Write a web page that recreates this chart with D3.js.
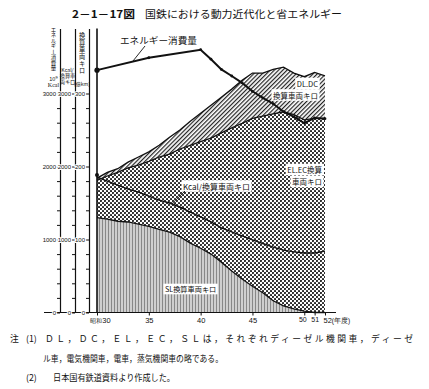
<!DOCTYPE html>
<html>
<head>
<meta charset="utf-8">
<script src="https://cdnjs.cloudflare.com/ajax/libs/d3/7.8.5/d3.min.js"></script>
<style>
  body { margin: 0; background: #fff; }
  svg { display: block; font-family: "Noto Sans CJK JP", "Noto Sans", sans-serif; }
</style>
</head>
<body>
<div id="chart"></div>
<script>
/**
 * DATA
 * */
const years = [30, 31, 32, 33, 34, 35, 36, 37, 38, 39, 40, 41, 42, 43, 44, 45, 46, 47, 48, 49, 50, 51, 52];
// 換算車両キロ (億km), stacked bottom to top
const slKm     = [130, 128, 125, 124, 121, 118, 114, 110, 104, 95, 88, 80, 69, 57, 46, 36, 27, 16, 9, 5, 2, 0, 0];
const elecKm   = [51, 59, 67, 74, 81, 89, 99, 107, 120, 134, 146, 159, 177, 196, 213, 230, 242, 256, 266, 266, 262, 266, 266];
const dieselKm = [3, 5, 5, 8, 11, 13, 16, 23, 26, 33, 39, 45, 49, 53, 59, 62, 59, 61, 61, 57, 59, 63, 58];
// Kcal/換算車両キロ
const kcalPerKm = [1855, 1800, 1745, 1690, 1650, 1595, 1540, 1500, 1445, 1375, 1310, 1240, 1160, 1105, 1050, 995, 945, 895, 855, 830, 815, 815, 840];
// エネルギー消費量 (10^9 Kcal)
const energyYears = [30, 35, 40, 41, 42, 43, 44, 45, 46, 47, 48, 49, 50, 51, 52];
const energyKcal  = [3320, 3490, 3600, 3470, 3330, 3240, 3145, 3030, 2940, 2860, 2750, 2680, 2595, 2665, 2655];

const xTickYears = [30, 35, 40, 45, 50, 51, 52];
const leftLabels = [0, 1000, 2000, 3000];

/**
 * CONSTANTS
 * */
const width = 429, height = 389;

const svg = d3.select("#chart").append("svg")
  .attr("width", width)
  .attr("height", height);

// all three left scales share the same pixel grid (3000 = 300億km)
const x = d3.scaleLinear().domain([30, 52]).range([97, 325]);
const y = d3.scaleLinear().domain([0, 3000]).range([312.5, 93.5]);
const yKm = d3.scaleLinear().domain([0, 300]).range([312.5, 93.5]);
const yTop = y.invert(28.5); // axis lines run up past 3000

/**
 * PATTERNS
 * */
const defs = svg.append("defs");

const pSL = defs.append("pattern").attr("id", "pSL")
  .attr("patternUnits", "userSpaceOnUse").attr("width", 3).attr("height", 3);
pSL.append("rect").attr("width", 3).attr("height", 3).attr("fill", "#cfcfcf");
pSL.append("rect").attr("x", 0).attr("width", 1).attr("height", 3).attr("fill", "#888");

const pEL = defs.append("pattern").attr("id", "pEL")
  .attr("patternUnits", "userSpaceOnUse").attr("width", 4).attr("height", 4);
pEL.append("rect").attr("width", 4).attr("height", 4).attr("fill", "#fff");
pEL.append("circle").attr("cx", 1).attr("cy", 1).attr("r", 1.05).attr("fill", "#1a1a1a");
pEL.append("circle").attr("cx", 3).attr("cy", 3).attr("r", 1.05).attr("fill", "#1a1a1a");

const pDL = defs.append("pattern").attr("id", "pDL")
  .attr("patternUnits", "userSpaceOnUse").attr("width", 3).attr("height", 3)
  .attr("patternTransform", "rotate(45)");
pDL.append("rect").attr("width", 3).attr("height", 3).attr("fill", "#fff");
pDL.append("rect").attr("width", 1.2).attr("height", 3).attr("fill", "#222");

/**
 * STACKED AREAS
 * */
const rows = years.map((yr, i) => ({ year: yr, sl: slKm[i], elec: elecKm[i], diesel: dieselKm[i] }));
const series = d3.stack().keys(["sl", "elec", "diesel"])(rows);
const fills = { sl: "url(#pSL)", elec: "url(#pEL)", diesel: "url(#pDL)" };

const area = d3.area()
  .x(d => x(d.data.year))
  .y0(d => yKm(d[0]))
  .y1(d => yKm(d[1]));

svg.append("g").selectAll("path")
  .data(series)
  .join("path")
  .attr("d", area)
  .attr("fill", d => fills[d.key]);

// boundary lines on top of each layer
const topLine = d3.line().x(d => x(d.data.year)).y(d => yKm(d[1]));
svg.append("g").selectAll("path")
  .data(series)
  .join("path")
  .attr("d", topLine)
  .attr("fill", "none")
  .attr("stroke", "#111")
  .attr("stroke-width", 1.3);

/**
 * LINES
 * */
const kcalLine = d3.line().x((d, i) => x(years[i])).y(d => y(d));
svg.append("path")
  .attr("d", kcalLine(kcalPerKm))
  .attr("fill", "none")
  .attr("stroke", "#111")
  .attr("stroke-width", 1.4);

const energyLine = d3.line().x((d, i) => x(energyYears[i])).y(d => y(d));
svg.append("path")
  .attr("d", energyLine(energyKcal))
  .attr("fill", "none")
  .attr("stroke", "#111")
  .attr("stroke-width", 2);

svg.append("g").selectAll("circle")
  .data(energyKcal)
  .join("circle")
  .attr("cx", (d, i) => x(energyYears[i]))
  .attr("cy", d => y(d))
  .attr("r", (d, i) => i === 0 ? 2.6 : 1.4)
  .attr("fill", "#111");

svg.append("circle")
  .attr("cx", x(30)).attr("cy", y(kcalPerKm[0]) - 2)
  .attr("r", 2).attr("fill", "#111");

/**
 * AXES
 * */
// baseline running left through the three value axes
svg.append("line")
  .attr("x1", 44).attr("x2", 336)
  .attr("y1", y(0)).attr("y2", y(0))
  .attr("stroke", "#111").attr("stroke-width", 1.2);

const yAxisScale = d3.scaleLinear().domain([0, yTop]).range([y(0), y(yTop)]);
const minorTicks = d3.range(0, 3001, 200);

function valueAxis(xPos, labels, fmt) {
  const g = svg.append("g")
    .attr("transform", `translate(${xPos},0)`)
    .call(d3.axisLeft(yAxisScale)
      .tickValues(minorTicks)
      .tickSize(3)
      .tickSizeOuter(0)
      .tickPadding(1)
      .tickFormat(d => labels.includes(d) ? fmt(d) : ""));
  g.select(".domain").attr("stroke", "#111").attr("stroke-width", 1.2);
  g.selectAll(".tick line").attr("stroke", "#111");
  g.selectAll("text")
    .attr("font-size", 6)
    .attr("fill", "#111")
    .attr("stroke", "#fff")
    .attr("stroke-width", 2)
    .style("paint-order", "stroke");
  return g;
}

valueAxis(60, leftLabels, d => d);
valueAxis(75, leftLabels, d => d);
valueAxis(89, leftLabels, d => d / 10);

// main frame line at 昭和30
svg.append("line")
  .attr("x1", x(30)).attr("x2", x(30))
  .attr("y1", y(yTop)).attr("y2", y(0))
  .attr("stroke", "#111").attr("stroke-width", 1.6);

const xAxis = svg.append("g")
  .attr("transform", `translate(0,${y(0)})`)
  .call(d3.axisBottom(x).tickValues(xTickYears).tickSize(3).tickPadding(2));
xAxis.select(".domain").remove();
xAxis.selectAll(".tick line").attr("stroke", "#111");
xAxis.selectAll("text").attr("font-size", 7.5).attr("fill", "#111");
xAxis.selectAll(".tick").filter(d => d === 30).select("text")
  .attr("text-anchor", "middle").attr("dx", 3)
  .text(null)
  .call(t => {
    t.append("tspan").attr("font-size", 5.5).text("昭和");
    t.append("tspan").text("30");
  });
xAxis.selectAll(".tick").filter(d => d === 52).select("text")
  .attr("text-anchor", "start").attr("dx", -2)
  .text(null)
  .call(t => {
    t.append("tspan").text("52");
    t.append("tspan").attr("font-size", 6.5).text("(年度)");
  });
xAxis.selectAll(".tick").filter(d => d === 50).select("text").attr("dx", -2).attr("font-size", 7);
xAxis.selectAll(".tick").filter(d => d === 51).select("text").attr("dx", 0).attr("font-size", 7);

/**
 * AXIS TITLES
 * */
function vText(str, cx, y0, len, size) {
  svg.append("text")
    .attr("x", cx)
    .attr("y", y0)
    .style("writing-mode", "vertical-rl")
    .attr("font-size", size)
    .attr("fill", "#111")
    .attr("textLength", len)
    .attr("lengthAdjust", "spacingAndGlyphs")
    .text(str);
}

function stackText(lines, cx, y0, step, size) {
  const t = svg.append("text")
    .attr("text-anchor", "middle")
    .attr("font-size", size)
    .attr("fill", "#111");
  t.selectAll("tspan")
    .data(lines)
    .join("tspan")
    .attr("x", cx)
    .attr("y", (d, i) => y0 + i * step)
    .text(d => d);
  return t;
}

vText("エネルギー消費量", 53.5, 27, 44, 5.4);
const unit1 = stackText(["10", "Kcal"], 53.5, 80.5, 6, 5.6);
unit1.select("tspan").append("tspan").attr("font-size", 4).attr("dy", -2).text("9");
unit1.selectAll(":scope > tspan").filter((d, i) => i === 1).attr("font-family", "Liberation Serif").attr("font-size", 6);

stackText(["Kcal/", "換算車", "両キロ"], 67.5, 72, 6, 5.2);

vText("換算車両キロ", 82, 32, 42, 6.2);
stackText(["(億km)"], 82, 86, 6, 5);

/**
 * SERIES LABELS
 * */
function boxLabel(lines, xPos, yFirst, lineH, size, anchor) {
  const g = svg.append("g");
  lines.forEach((s, i) => {
    const t = g.append("text")
      .attr("x", xPos)
      .attr("y", yFirst + i * lineH)
      .attr("text-anchor", anchor)
      .attr("font-size", size)
      .attr("fill", "#111")
      .text(s);
    const b = t.node().getBBox();
    g.insert("rect", "text")
      .attr("x", b.x - 1.5).attr("y", b.y - 0.3)
      .attr("width", b.width + 3).attr("height", b.height + 0.6)
      .attr("fill", "#fff");
  });
}

boxLabel(["DL.DC", "換算車両キロ"], 318, 87, 11.5, 7.5, "end");
boxLabel(["EL.EC換算", "車両キロ"], 322, 173, 12, 7.5, "end");
boxLabel(["Kcal/換算車両キロ"], 183, 189.5, 12, 8, "start");
boxLabel(["SL換算車両キロ"], 165, 292, 12, 7.2, "start");

// leader for Kcal label
svg.append("line")
  .attr("x1", 185).attr("y1", 191)
  .attr("x2", 172).attr("y2", y(1490))
  .attr("stroke", "#111").attr("stroke-width", 0.9);

// energy label + leader
svg.append("text")
  .attr("x", 120).attr("y", 43.5)
  .attr("font-size", 9).attr("fill", "#111")
  .attr("textLength", 77).attr("lengthAdjust", "spacingAndGlyphs")
  .text("エネルギー消費量");
svg.append("line")
  .attr("x1", 145).attr("y1", 46)
  .attr("x2", 133).attr("y2", 61)
  .attr("stroke", "#111").attr("stroke-width", 0.9);

/**
 * TITLE AND NOTES
 * */
svg.append("text")
  .attr("x", 72).attr("y", 18)
  .attr("font-size", 10.5).attr("font-weight", "bold").attr("fill", "#111")
  .attr("textLength", 63).attr("lengthAdjust", "spacingAndGlyphs")
  .text("2－1－17図");
svg.append("text")
  .attr("x", 145).attr("y", 18)
  .attr("font-size", 10.5).attr("fill", "#111")
  .attr("textLength", 197).attr("lengthAdjust", "spacingAndGlyphs")
  .text("国鉄における動力近代化と省エネルギー");

const notes = svg.append("g").attr("fill", "#111").attr("font-size", 8.8);
notes.append("text").attr("x", 10).attr("y", 341.5).text("注");
notes.append("text").attr("x", 26).attr("y", 341.5).text("(1)");
notes.append("text").attr("x", 45).attr("y", 341.5)
  .attr("textLength", 368).attr("lengthAdjust", "spacing")
  .text("ＤＬ，ＤＣ，ＥＬ，ＥＣ，ＳＬは，それぞれディーゼル機関車，ディーゼ");
notes.append("text").attr("x", 43).attr("y", 362)
  .attr("textLength", 180).attr("lengthAdjust", "spacingAndGlyphs")
  .text("ル車，電気機関車，電車，蒸気機関車の略である。");
notes.append("text").attr("x", 26).attr("y", 380.5).text("(2)");
notes.append("text").attr("x", 53).attr("y", 380.5)
  .attr("textLength", 122).attr("lengthAdjust", "spacingAndGlyphs")
  .text("日本国有鉄道資料より作成した。");
</script>
</body>
</html>
